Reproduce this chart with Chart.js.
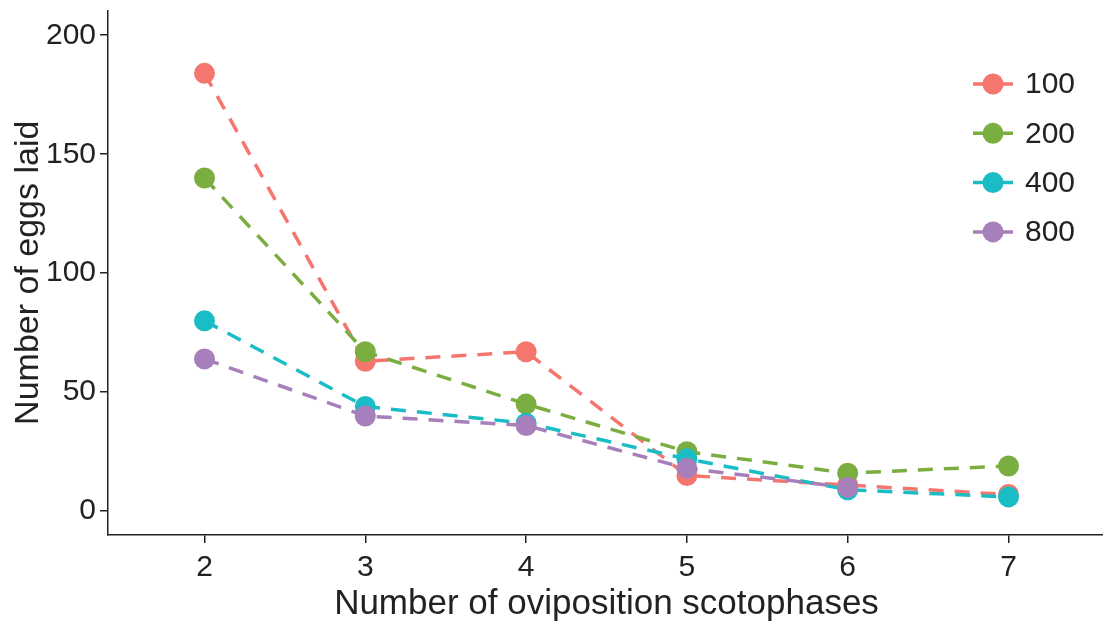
<!DOCTYPE html>
<html>
<head>
<meta charset="utf-8">
<title>Number of eggs laid</title>
<script src="https://cdn.jsdelivr.net/npm/chart.js@4"></script>
<style>
  html, body { margin: 0; padding: 0; background: #fff; overflow: hidden; }
  #wrap { width: 1120px; height: 625px; position: relative; }
</style>
</head>
<body>
<div id="wrap"><canvas id="eggsChart"></canvas></div>
<script>
// data
const scotophases = [2, 3, 4, 5, 6, 7];
const eggs100 = [184, 63, 67, 15, 11, 7];
const eggs200 = [140, 67, 45, 25, 16, 19];
const eggs400 = [80, 44, 37, 22, 9, 6];
const eggs800 = [64, 40, 36, 18, 10, null];
const seriesNames = ["100", "200", "400", "800"];
const yTicks = [0, 50, 100, 150, 200];

const colors = ["#F5766F", "#7BAE41", "#1ABDC6", "#A77FBB"];
const fontFamily = "'Liberation Sans', Arial, Helvetica, sans-serif";
const textColor = "#222";

function toPoints(values) {
  return scotophases.map((x, i) => ({ x: x, y: values[i] }));
}

function makeDataset(i, values) {
  return {
    label: seriesNames[i],
    data: toPoints(values),
    borderColor: colors[i],
    backgroundColor: colors[i],
    borderWidth: 3.5,
    borderDash: [15, 11],
    pointRadius: 10.5,
    pointHoverRadius: 10.5,
    pointBorderWidth: 0,
    pointBackgroundColor: colors[i],
    fill: false,
    tension: 0,
    order: 4 - i
  };
}

// ggplot-like legend: dashed key line with a dot on top
const keyLegend = {
  id: "keyLegend",
  afterDatasetsDraw(chart) {
    const ctx = chart.ctx;
    const x0 = 973, x1 = 1013, cx = 993, tx = 1025;
    chart.data.datasets.forEach((ds, i) => {
      const y = 84 + i * 49.3;
      ctx.save();
      ctx.strokeStyle = ds.borderColor;
      ctx.lineWidth = 3.5;
      ctx.setLineDash([15, 11]);
      ctx.beginPath();
      ctx.moveTo(x0, y);
      ctx.lineTo(x1, y);
      ctx.stroke();
      ctx.setLineDash([]);
      ctx.fillStyle = ds.backgroundColor;
      ctx.beginPath();
      ctx.arc(cx, y, 10.5, 0, Math.PI * 2);
      ctx.fill();
      ctx.fillStyle = textColor;
      ctx.font = "30px " + fontFamily;
      ctx.textBaseline = "middle";
      ctx.textAlign = "left";
      ctx.fillText(ds.label, tx, y + 1);
      ctx.restore();
    });
  }
};

document.addEventListener("DOMContentLoaded", function () {
  const canvas = document.getElementById("eggsChart");
  new Chart(canvas.getContext("2d"), {
    type: "line",
    data: {
      datasets: [
        makeDataset(0, eggs100),
        makeDataset(1, eggs200),
        makeDataset(2, eggs400),
        makeDataset(3, eggs800)
      ]
    },
    options: {
      responsive: true,
      maintainAspectRatio: false,
      animation: false,
      layout: { padding: { top: 7, right: 15, left: 0, bottom: 0 } },
      scales: {
        x: {
          type: "linear",
          min: 1.4,
          max: 7.6,
          afterBuildTicks: (scale) => {
            scale.ticks = scotophases.map((v) => ({ value: v }));
          },
          afterFit: (scale) => {
            scale.height = 90;
            scale.paddingLeft = 0;
            scale.paddingRight = 0;
          },
          border: { display: true, color: textColor, width: 1.5 },
          grid: { drawOnChartArea: false, drawTicks: true, tickLength: 8, color: textColor, lineWidth: 1.5 },
          ticks: {
            padding: 7,
            maxRotation: 0,
            font: { family: fontFamily, size: 30 },
            color: textColor
          },
          title: {
            display: true,
            text: "Number of oviposition scotophases",
            font: { family: fontFamily, size: 35 },
            color: textColor,
            padding: { top: 0, bottom: 0 }
          }
        },
        y: {
          min: -10,
          max: 210.4,
          afterBuildTicks: (scale) => {
            scale.ticks = yTicks.map((v) => ({ value: v }));
          },
          afterFit: (scale) => {
            scale.width = 108;
            scale.paddingTop = 0;
            scale.paddingBottom = 0;
          },
          border: { display: true, color: textColor, width: 1.5 },
          grid: { drawOnChartArea: false, drawTicks: true, tickLength: 8, color: textColor, lineWidth: 1.5 },
          ticks: {
            padding: 4,
            font: { family: fontFamily, size: 30 },
            color: textColor
          },
          title: {
            display: true,
            text: "Number of eggs laid",
            font: { family: fontFamily, size: 34 },
            color: textColor,
            padding: { top: 8, bottom: 0 }
          }
        }
      },
      plugins: {
        legend: { display: false },
        tooltip: { enabled: false }
      }
    },
    plugins: [keyLegend]
  });
});
</script>
</body>
</html>
